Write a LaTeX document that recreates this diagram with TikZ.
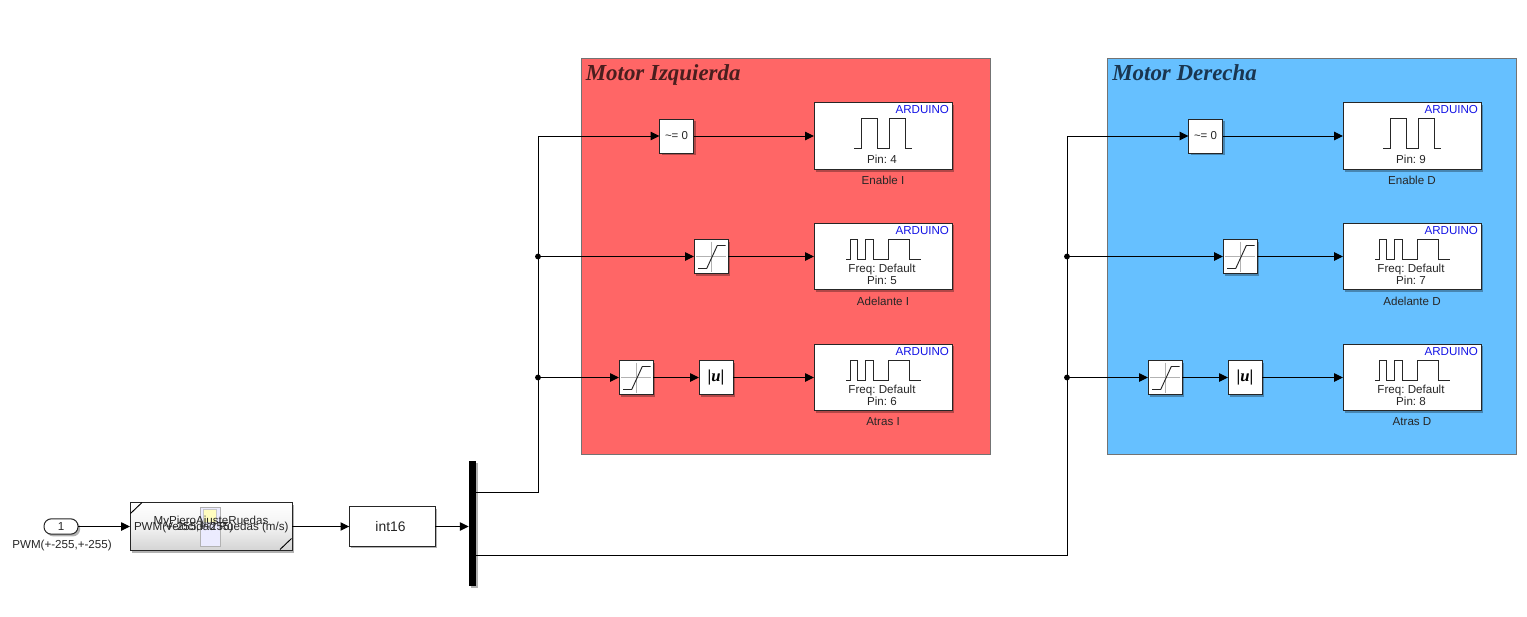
\documentclass[tikz,border=0pt]{standalone}
\usepackage{fontspec}
\setmainfont{Liberation Sans}
\newfontfamily\titlefont{Liberation Serif}
\usetikzlibrary{arrows.meta,shadows}
\definecolor{redarea}{HTML}{FF6666}
\definecolor{bluearea}{HTML}{66C0FF}
\definecolor{redtitle}{HTML}{4A1E1E}
\definecolor{bluetitle}{HTML}{1A3650}
\definecolor{ardblue}{HTML}{1414E6}
\tikzset{
  x=0.75pt,y=-0.75pt,
  sl/.style={font=\fontsize{8.7pt}{10pt}\selectfont\frenchspacing,text=black!85,inner sep=0pt,outer sep=0pt},
  shadowed/.style={general shadow={fill=black,opacity=.3,shadow xshift=1.6pt,shadow yshift=-1.7pt}},
  blk/.style={draw=black!85,line width=0.75pt,fill=white,inner sep=0pt,outer sep=0pt,shadowed},
  sq/.style={blk,minimum width=25.5pt,minimum height=25.5pt},
  ard/.style={blk,minimum width=103.5pt,minimum height=50pt},
  area/.style={draw=black!55,line width=0.6pt,inner sep=0pt,outer sep=0pt,minimum width=306.75pt,minimum height=297pt},
  areatitle/.style={font=\titlefont\bfseries\itshape\fontsize{17.2pt}{20pt}\selectfont\frenchspacing,inner sep=0pt,anchor=base west},
  sig/.style={line width=0.75pt,-{Triangle[length=6.6pt,width=6.2pt]}},
  wave/.style={line width=0.7pt,draw=black!85,line join=miter},
  wire/.style={line width=0.7pt},
  dot/.style={circle,fill=black,minimum size=4.4pt,inner sep=0pt,outer sep=0pt},
  grid/.style={line width=0.6pt,draw=black!30},
}
\newcommand{\pulseicon}[2]{%
  \draw[wave] (#1+40,#2+46) -- ++(7,0) -- ++(0,-30) -- ++(16,0) -- ++(0,30) -- ++(12,0) -- ++(0,-30) -- ++(16,0) -- ++(0,30) -- ++(7,0);}
\newcommand{\pwmicon}[2]{%
  \draw[wave] (#1+32,#2+36) -- ++(4,0) -- ++(0,-20) -- ++(7,0) -- ++(0,20) -- ++(8,0) -- ++(0,-20) -- ++(8,0) -- ++(0,20) -- ++(15,0) -- ++(0,-20) -- ++(21,0) -- ++(0,20) -- ++(12,0);}
\newcommand{\saticon}[2]{%
  \draw[grid] (#1+2,#2+17) -- ++(30,0);
  \draw[grid] (#1+17,#2+2) -- ++(0,30);
  \draw[wave] (#1+4,#2+29) -- ++(8.7,0) -- ++(10.6,-23) -- ++(8.4,0);}
% #1 prefix, #2 x offset of blocks, #3-#5 pins, #6 suffix
\newcommand{\motor}[6]{%
  \node[sq] (cmp#1) at (676.5+#2,136) {};
  \node[sl,font=\fontsize{8.6pt}{10pt}\selectfont] (cmptxt#1) at (676.5+#2,136) {\string~= 0};
  \node[ard] (en#1) at (883+#2,136) {};
  \node[sq] (satA#1) at (711+#2,256.5) {};
  \node[ard] (ad#1) at (883+#2,256.5) {};
  \node[sq] (satB#1) at (636+#2,377.5) {};
  \node[sq] (abs#1) at (716+#2,377.5) {};
  \node[ard] (at#1) at (883+#2,377.5) {};
  \node[font=\titlefont\bfseries\fontsize{12.5pt}{14pt}\selectfont,inner sep=0pt] (abstxt#1) at (716+#2,377.5) {|\textit{u}|};
  \saticon{694+#2}{239.5}
  \saticon{619+#2}{360.5}
  \pulseicon{814+#2}{102}
  \pwmicon{814+#2}{223}
  \pwmicon{814+#2}{344}
  \node[sl,anchor=east,text=ardblue] (enA#1) at (949+#2,109.5) {ARDUINO};
  \node[sl,anchor=east,text=ardblue] (adA#1) at (949+#2,230.5) {ARDUINO};
  \node[sl,anchor=east,text=ardblue] (atA#1) at (949+#2,351.5) {ARDUINO};
  \node[sl] (enP#1) at (882+#2,159) {Pin: #3};
  \node[sl] (adF#1) at (882+#2,269.7) {Freq: Default};
  \node[sl] (adP#1) at (882+#2,280.5) {Pin: #4};
  \node[sl] (atF#1) at (882+#2,390.7) {Freq: Default};
  \node[sl] (atP#1) at (882+#2,401.5) {Pin: #5};
  \node[sl] (enL#1) at (883+#2,180) {Enable #6};
  \node[sl] (adL#1) at (883+#2,301) {Adelante #6};
  \node[sl] (atL#1) at (883+#2,421.5) {Atras #6};
  \draw[sig] (cmp#1.east) -- (en#1.west);
  \draw[sig] (satA#1.east) -- (ad#1.west);
  \draw[sig] (satB#1.east) -- (abs#1.west);
  \draw[sig] (abs#1.east) -- (at#1.west);
}
\begin{document}
\begin{tikzpicture}
\useasboundingbox (0,0) rectangle (1527,617);
% coloured areas
\node[area,fill=redarea] (areaI) at (785.5,256) {};
\node[areatitle,text=redtitle] (titleI) at (585.5,80.5) {Motor Izquierda};
\node[area,fill=bluearea] (areaD) at (1311.5,256) {};
\node[areatitle,text=bluetitle] (titleD) at (1112,80.5) {Motor Derecha};

\motor{I}{0}{4}{5}{6}{I}
\motor{D}{529}{9}{7}{8}{D}

% inport
\node[blk,rounded corners=5.5pt,minimum width=25.5pt,minimum height=11.5pt] (inp) at (61,526.5) {};
\node[sl] (inptxt) at (61,526.5) {1};
\node[sl] (inplab) at (62,545.5) {PWM(+-255,+-255)};

% subsystem
\node[blk,top color=white,bottom color=black!17,middle color=black!5,minimum width=121.5pt,minimum height=36pt] (sub) at (211,526.5) {};
\draw[wire] (130.5,513.5) -- (142,502.5);
\draw[wire] (280,549.5) -- (291.5,538.5);
\fill[black!5!blue!8!white,draw=black!30,line width=0.7pt] (200,507) rectangle (220,546);
\fill[yellow!25!white,draw=black!22,line width=0.5pt] (203,509) rectangle (216,522);
\node[sl] (subname) at (211,521) {MyPieroAjusteRuedas};
\node[sl,anchor=west] (subin) at (134,527.5) {PWM(+-255,+-255)};
\node[sl,anchor=east] (subout) at (288.5,527.5) {Velocidad Ruedas (m/s)};

% conversion
\node[blk,minimum width=64.5pt,minimum height=29.5pt] (conv) at (392.3,526.5) {};
\node[sl,font=\fontsize{10.4pt}{12pt}\selectfont] (convtxt) at (390.5,526.5) {int16};

% mux
\node[fill=black,inner sep=0pt,outer sep=0pt,minimum width=5.6pt,minimum height=94pt,shadowed] (mux) at (472.5,523.5) {};

% wires
\draw[sig] (inp.east) -- (sub.west);
\draw[sig] (sub.east) -- (conv.west);
\draw[sig] (conv.east) -- (mux.west |- conv.east);

\coordinate (busI) at (538,492.5);
\coordinate (busD) at (1067,555);
\coordinate (topI) at (busI |- cmpI.west);
\coordinate (topD) at (busD |- cmpD.west);
\node[dot] (jIa) at (busI |- satAI.west) {};
\node[dot] (jIb) at (busI |- satBI.west) {};
\node[dot] (jDa) at (busD |- satAD.west) {};
\node[dot] (jDb) at (busD |- satBD.west) {};

\draw[sig] (mux.east |- busI) -- (busI) -- (topI) -- (cmpI.west);
\draw[sig] (jIa) -- (satAI.west);
\draw[sig] (jIb) -- (satBI.west);
\draw[sig] (mux.east |- busD) -- (busD) -- (topD) -- (cmpD.west);
\draw[sig] (jDa) -- (satAD.west);
\draw[sig] (jDb) -- (satBD.west);
\end{tikzpicture}
\end{document}
